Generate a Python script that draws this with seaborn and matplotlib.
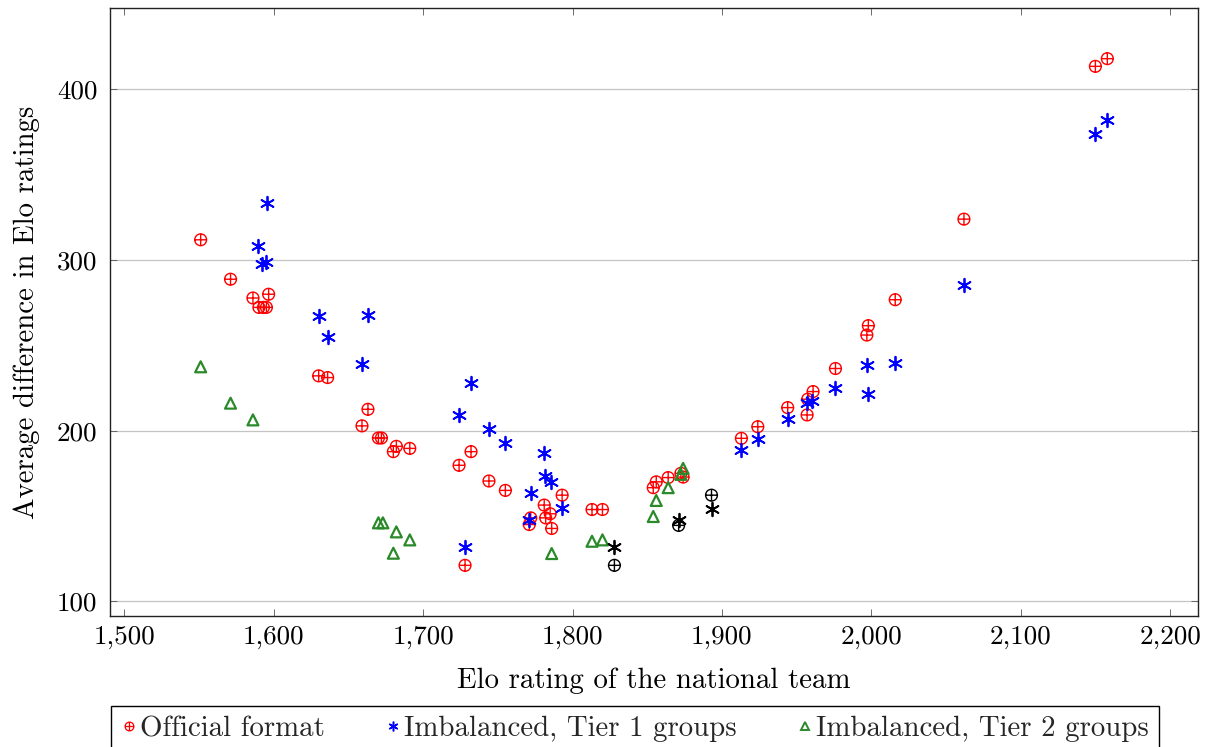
import numpy as np
import pandas as pd
import matplotlib
matplotlib.use("Agg")
import matplotlib.pyplot as plt
import seaborn as sns
from matplotlib.path import Path
from matplotlib.ticker import FuncFormatter, MultipleLocator
from matplotlib.lines import Line2D

# ---------------- data ----------------
official_x = [1551, 1571, 1586, 1596.5, 1590, 1593, 1595, 1630, 1636, 1663, 1659, 1670, 1672,
              1682, 1680, 1691, 1732, 1724, 1744, 1755, 1793, 1781, 1785, 1782, 1772, 1771,
              1786, 1813, 1820, 1728, 1856, 1854, 1864, 1872.5, 1874, 1913, 1924, 1944, 1957,
              1957.4, 1961, 1976, 1998, 1997, 2016, 2062, 2150, 2158]
official_y = [311.8, 288.7, 277.7, 279.9, 272.2, 272.2, 272.2, 232.1, 231.1, 212.5, 202.8, 195.7, 195.7,
              190.8, 187.7, 189.6, 187.7, 179.7, 170.5, 165.0, 162.2, 156.4, 151.3, 148.9, 148.9, 145.0,
              142.7, 153.8, 153.8, 121.1, 170.0, 166.6, 172.5, 175.0, 172.8, 195.5, 202.3, 213.5, 209.2,
              218.4, 222.9, 236.4, 261.5, 256.0, 276.7, 323.9, 413.4, 417.9]

tier1_x = [1595.6, 1589.4, 1592, 1595, 1630, 1663, 1636, 1659, 1732, 1724, 1744, 1755, 1781,
           1781.6, 1785.4, 1772, 1793, 1771, 1728, 1913, 1924, 1944, 1957, 1960, 1976, 1997,
           1998, 2016, 2062, 2158, 2150]
tier1_y = [333.5, 308.0, 297.5, 299.0, 267.4, 268.0, 254.6, 239.3, 228.2, 209.2, 200.8, 193.0, 186.7,
           173.4, 170.0, 163.6, 154.5, 147.6, 132.1, 188.8, 194.9, 206.7, 216.3, 217.4, 224.9, 238.6,
           221.7, 239.4, 285.4, 381.9, 373.5]

tier2_x = [1551, 1571, 1586, 1670, 1673, 1682, 1691, 1680, 1786, 1813, 1820, 1856, 1854, 1864,
           1872.5, 1874]
tier2_y = [237.4, 216.1, 206.3, 146.0, 146.0, 140.7, 136.0, 128.2, 128.0, 135.2, 136.0, 159.1, 149.7,
           166.6, 174.4, 177.9]

host_official_x = [1828, 1871, 1893]
host_official_y = [121.1, 144.5, 162.2]
host_tier1_x = [1828, 1871, 1893]
host_tier1_y = [131.9, 147.6, 154.2]

labels = ["Official format", "Imbalanced, Tier 1 groups", "Imbalanced, Tier 2 groups"]
x_label = "Elo rating of the national team"
y_label = "Average difference in Elo ratings"

# ---------------- style ----------------
sns.set_theme(style="white")
plt.rcParams["font.family"] = ["cmr10", "DejaVu Serif"]
plt.rcParams["mathtext.fontset"] = "cm"
plt.rcParams["axes.formatter.use_mathtext"] = True
plt.rcParams["axes.unicode_minus"] = False
FS_TICK = 19.5
FS_LABEL = 20.8

RED = "#ff0000"
BLUE = "#0000ff"
GREEN = "#2a8a2a"
BLACK = "#000000"

circle = Path.unit_circle()
cross = Path([[-1, 0], [1, 0], [0, -1], [0, 1]],
             [Path.MOVETO, Path.LINETO, Path.MOVETO, Path.LINETO])
oplus = Path.make_compound_path(circle, cross)
asterisk = (6, 2, 0)

fig = plt.figure(figsize=(12.08, 7.47), dpi=100)
ax = fig.add_axes([110 / 1208, 1 - 616 / 747, (1198 - 110) / 1208, (616 - 8) / 747])

df_off = pd.DataFrame({"x": official_x, "y": official_y})
df_t1 = pd.DataFrame({"x": tier1_x, "y": tier1_y})
df_t2 = pd.DataFrame({"x": tier2_x, "y": tier2_y})
df_ho = pd.DataFrame({"x": host_official_x, "y": host_official_y})
df_h1 = pd.DataFrame({"x": host_tier1_x, "y": host_tier1_y})

sns.scatterplot(data=df_off, x="x", y="y", ax=ax, marker=oplus, s=72, color=RED,
                facecolor="none", edgecolor=RED, linewidth=1.0, legend=False, zorder=3)
sns.scatterplot(data=df_t1, x="x", y="y", ax=ax, marker=asterisk, s=95, color=BLUE,
                linewidth=1.3, legend=False, zorder=3)
sns.scatterplot(data=df_t2, x="x", y="y", ax=ax, marker="^", s=62, color=GREEN,
                facecolor="none", edgecolor=GREEN, linewidth=1.6, legend=False, zorder=3)
sns.scatterplot(data=df_ho, x="x", y="y", ax=ax, marker=oplus, s=72, color=BLACK,
                facecolor="none", edgecolor=BLACK, linewidth=1.0, legend=False, zorder=3)
sns.scatterplot(data=df_h1, x="x", y="y", ax=ax, marker=asterisk, s=95, color=BLACK,
                linewidth=1.3, legend=False, zorder=3)

# axis limits: data range enlarged by 10 % on each side
all_x = np.array(official_x + tier1_x + tier2_x + host_official_x + host_tier1_x)
all_y = np.array(official_y + tier1_y + tier2_y + host_official_y + host_tier1_y)
rx = all_x.max() - all_x.min()
ry = all_y.max() - all_y.min()
ax.set_xlim(all_x.min() - 0.1 * rx, all_x.max() + 0.1 * rx)
ax.set_ylim(all_y.min() - 0.1 * ry, all_y.max() + 0.1 * ry)

ax.xaxis.set_major_locator(MultipleLocator(100))
ax.yaxis.set_major_locator(MultipleLocator(100))
ax.xaxis.set_major_formatter(FuncFormatter(lambda v, p: f"{v:,.0f}"))
ax.yaxis.set_major_formatter(FuncFormatter(lambda v, p: f"{v:.0f}"))

ax.grid(axis="y", color="#c4c4c4", linewidth=0.9)
ax.grid(axis="x", visible=False)
ax.set_axisbelow(True)

for sp in ax.spines.values():
    sp.set_color("#222222")
    sp.set_linewidth(1.0)
    sp.set_visible(True)

ax.tick_params(axis="both", which="major", direction="in", length=5, width=0.6,
               colors="#555555", labelcolor="black", labelsize=FS_TICK,
               top=True, right=True, bottom=True, left=True)
ax.tick_params(axis="x", pad=7)
ax.tick_params(axis="y", pad=9)

ax.set_xlabel(x_label, fontsize=FS_LABEL, color="black", labelpad=13)
ax.set_ylabel(y_label, fontsize=FS_LABEL, color="black", labelpad=12)

handles = [
    Line2D([], [], linestyle="none", marker=oplus, markersize=6.3, markerfacecolor="none",
           markeredgecolor=RED, markeredgewidth=0.9),
    Line2D([], [], linestyle="none", marker=asterisk, markersize=7, color=BLUE,
           markeredgewidth=1.1),
    Line2D([], [], linestyle="none", marker="^", markersize=5.5, markerfacecolor="none",
           markeredgecolor=GREEN, markeredgewidth=1.4),
]
leg = fig.legend(handles, labels, loc="upper left", bbox_to_anchor=(111 / 1208, 1 - 706 / 747),
                 ncol=3, fontsize=FS_LABEL, frameon=True, fancybox=False, framealpha=1,
                 edgecolor="black", handlelength=0.55, handletextpad=0.1, columnspacing=2.1,
                 borderpad=0.35, borderaxespad=0)
leg.get_frame().set_linewidth(1.0)

fig.savefig("out.png", dpi=100, facecolor="white")
